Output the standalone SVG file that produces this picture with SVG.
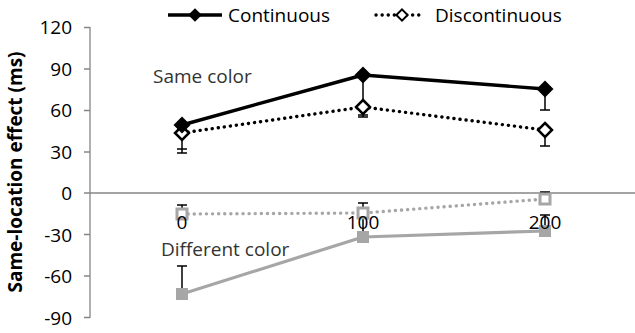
<svg xmlns="http://www.w3.org/2000/svg" width="635" height="333" viewBox="0 0 635 333">
<style>
text{font-family:"Open Sans","Liberation Sans",sans-serif;font-size:19px;fill:#000}
.tick{text-anchor:end}
.xl{text-anchor:middle}
.ax{stroke:#868686;stroke-width:1.3;fill:none}
.blk{stroke:#000;stroke-width:3.4;fill:none;stroke-linejoin:round}
.blkd{stroke:#000;stroke-width:3.4;fill:none;stroke-dasharray:0.1 6;stroke-linecap:round}
.gry{stroke:#a6a6a6;stroke-width:3.2;fill:none;stroke-linejoin:round}
.gryd{stroke:#a6a6a6;stroke-width:3.4;fill:none;stroke-dasharray:0.1 6;stroke-linecap:round}
.eb{stroke:#000;stroke-width:1.5;fill:none}
.fd{fill:#000}
.od{fill:#fff;stroke:#000;stroke-width:2.5}
.fs{fill:#a6a6a6}
.os{fill:#fff;stroke:#a6a6a6;stroke-width:3}
.lab{fill:#333}
</style>
<defs>
<path id="dia" d="M0,-8.5 L8.5,0 L0,8.5 L-8.5,0 Z"/>
<path id="odia" d="M0,-7 L7,0 L0,7 L-7,0 Z"/>
<rect id="sq" x="-6" y="-6" width="12" height="12"/>
<rect id="osq" x="-5" y="-5" width="10" height="10"/>
</defs>
<g id="axes">
<line class="ax" x1="90" y1="27" x2="90" y2="318"/>
<line class="ax" x1="84" y1="193" x2="635" y2="193"/>
<path class="ax" d="M84,27.5H90M84,69H90M84,110.5H90M84,152H90M84,234.5H90M84,276H90M84,317.5H90"/>
<text class="tick" x="72" y="34">120</text>
<text class="tick" x="72" y="75.5">90</text>
<text class="tick" x="72" y="117">60</text>
<text class="tick" x="72" y="158.5">30</text>
<text class="tick" x="72" y="200">0</text>
<text class="tick" x="72" y="241.5">-30</text>
<text class="tick" x="72" y="283">-60</text>
<text class="tick" x="72" y="324.5">-90</text>
<text x="0" y="0" transform="translate(22,172) rotate(-90)" text-anchor="middle" style="font-weight:bold;font-size:19px">Same-location effect (ms)</text>
</g>
<g id="errorbars">
<path class="eb" d="M182,125V153M177,153H187M182,133V149M177,149H187"/>
<path class="eb" d="M363,75V115M358,115H368M363,107V117M358,117H368"/>
<path class="eb" d="M545,89V110M540,110H550M545,130V146M540,146H550"/>
<path class="eb" d="M182,214V205M177,205H187M363,213V203M358,203H368M545,199V192M540,192H550"/>
<path class="eb" d="M182,294V266M177,266H187M363,237V214M358,214H368M545,231V215M540,215H550"/>
</g>
<g id="connectors">
<polyline class="gry" points="182,294 363,237 545,231"/>
<polyline class="gryd" points="182,214 363,213 545,199"/>
<polyline class="blkd" points="182,133 363,107 545,130"/>
<polyline class="blk" points="182,125 363,75 545,89"/>
</g>
<g id="diff-continuous">
<use href="#sq" class="fs" x="182" y="294"/>
<use href="#sq" class="fs" x="363" y="237"/>
<use href="#sq" class="fs" x="545" y="231"/>
</g>
<g id="diff-discontinuous">
<use href="#osq" class="os" x="182" y="214"/>
<use href="#osq" class="os" x="363" y="213"/>
<use href="#osq" class="os" x="545" y="199"/>
</g>
<g id="same-discontinuous">
<use href="#odia" class="od" x="182" y="133"/>
<use href="#odia" class="od" x="363" y="107"/>
<use href="#odia" class="od" x="545" y="130"/>
</g>
<g id="same-continuous">
<use href="#dia" class="fd" x="182" y="125"/>
<use href="#dia" class="fd" x="363" y="75"/>
<use href="#dia" class="fd" x="545" y="89"/>
</g>
<g id="xlabels">
<text class="xl" x="182" y="229">0</text>
<text class="xl" x="363" y="229">100</text>
<text class="xl" x="545" y="229">200</text>
</g>
<g id="annotations">
<text class="lab" x="153" y="83">Same color</text>
<text class="lab" x="161" y="256">Different color</text>
</g>
<g id="legend">
<line class="blk" x1="168" y1="15" x2="222" y2="15"/>
<use href="#dia" class="fd" transform="translate(195,15) scale(0.8)"/>
<text x="228" y="22">Continuous</text>
<line class="blkd" x1="376" y1="15" x2="420" y2="15"/>
<use href="#odia" class="od" transform="translate(402,15) scale(0.8)"/>
<text x="435" y="22">Discontinuous</text>
</g>
</svg>
